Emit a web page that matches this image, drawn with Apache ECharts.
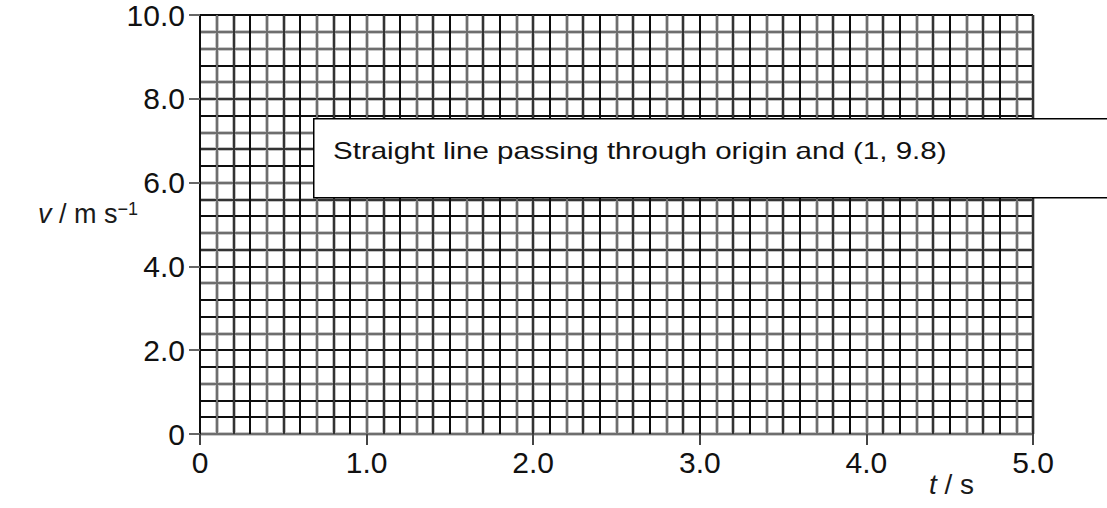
<!DOCTYPE html>
<html>
<head>
<meta charset="utf-8">
<script src="https://cdn.jsdelivr.net/npm/echarts@6/dist/echarts.min.js"></script>
<style>
  html, body { margin: 0; padding: 0; background: #ffffff; }
  #chart { width: 1107px; height: 508px; }
</style>
</head>
<body>
<div id="chart"></div>
<script>
// Axis ranges and labelled ticks
const tRange = [0, 5];
const vRange = [0, 10];
const tLabelStep = 1;
const vLabelStep = 2;
const tTickLabels = ['0', '1.0', '2.0', '3.0', '4.0', '5.0'];
const vTickLabels = ['0', '2.0', '4.0', '6.0', '8.0', '10.0'];

// Graph-paper ruling steps
const tRuleStep = 0.1;
const vRuleStep = 0.4;

// Annotation and axis titles
const noteText = 'Straight line passing through origin and (1, 9.8)';
const tTitle = '{i|t} / s';
const vTitle = '{i|v} / m s{sup|\u22121}';

// Ruling shades: B = black, D = dark grey, G = grey
const tRuleShades = 'BGD';                          // repeats across the sheet
const vRuleShades = 'GBBGBBGBBGBDGBDGBDGBDGBGGB';   // bottom to top

const FONT = '"Liberation Sans", Arial, sans-serif';
const CORE = { B: '#0d0d0d', D: '#333333', G: '#6e6e6e' };
const HALO = { B: 'rgba(255,255,255,0)', D: '#c2c2c2', G: '#c8c8c8' };

function shadeList(pattern, count, map) {
  const out = [];
  for (let i = 0; i < count; i++) out.push(map[pattern[i % pattern.length]]);
  return out;
}
const tRuleCount = Math.round((tRange[1] - tRange[0]) / tRuleStep) + 1;
const vRuleCount = Math.round((vRange[1] - vRange[0]) / vRuleStep) + 1;

function ruleAxis(range, step, colors, width, z) {
  return {
    type: 'value', min: range[0], max: range[1], interval: step, z: z,
    axisLine: { show: false }, axisTick: { show: false }, axisLabel: { show: false },
    splitLine: { show: true, lineStyle: { color: colors, width: width, type: 'solid' } }
  };
}

const chart = echarts.init(document.getElementById('chart'), null, { renderer: 'svg' });

chart.setOption({
  backgroundColor: '#ffffff',
  animation: false,
  grid: { left: 200, right: 74, top: 15, bottom: 74, containLabel: false },
  xAxis: [
    {
      type: 'value', min: tRange[0], max: tRange[1], interval: tLabelStep, z: 5,
      axisLine: { show: false },
      axisTick: { show: true, length: 11, lineStyle: { color: '#444', width: 2 } },
      axisLabel: {
        margin: 13, color: '#111', fontFamily: FONT, fontSize: 30,
        formatter: v => tTickLabels[Math.round((v - tRange[0]) / tLabelStep)]
      },
      splitLine: { show: false }
    },
    ruleAxis(tRange, tRuleStep, shadeList(tRuleShades, tRuleCount, HALO), 4, 1),
    ruleAxis(tRange, tRuleStep, shadeList(tRuleShades, tRuleCount, CORE), 2, 3)
  ],
  yAxis: [
    {
      type: 'value', min: vRange[0], max: vRange[1], interval: vLabelStep, z: 5,
      axisLine: { show: false },
      axisTick: { show: true, length: 11, lineStyle: { color: '#666', width: 2 } },
      axisLabel: {
        margin: 15, color: '#111', fontFamily: FONT, fontSize: 30,
        formatter: v => vTickLabels[Math.round((v - vRange[0]) / vLabelStep)]
      },
      splitLine: { show: false }
    },
    ruleAxis(vRange, vRuleStep, shadeList(vRuleShades, vRuleCount, HALO), 4, 1),
    ruleAxis(vRange, vRuleStep, shadeList(vRuleShades, vRuleCount, CORE), 2, 2)
  ],
  series: [{ type: 'line', xAxisIndex: 0, yAxisIndex: 0, data: [], silent: true }],
  graphic: [
    {
      type: 'rect', left: 313, top: 118, z: 100,
      shape: { x: 0, y: 0, width: 830, height: 79 },
      style: { fill: '#ffffff', stroke: '#000000', lineWidth: 1.5 }
    },
    {
      type: 'text', x: 333, y: 151, scaleX: 1.23, z: 101,
      style: {
        text: noteText, fill: '#111', font: '24px ' + FONT,
        verticalAlign: 'middle'
      }
    },
    {
      type: 'text', left: 38, top: 200, z: 100,
      style: {
        text: vTitle, fill: '#1a1a1a', font: '27px ' + FONT,
        rich: {
          i: { fontStyle: 'italic', fontSize: 27, fontFamily: FONT },
          sup: { fontSize: 18, fontFamily: FONT, verticalAlign: 'top' }
        }
      }
    },
    {
      type: 'text', left: 929, top: 470, z: 100,
      style: {
        text: tTitle, fill: '#1a1a1a', font: '28px ' + FONT,
        rich: { i: { fontStyle: 'italic', fontSize: 28, fontFamily: FONT } }
      }
    }
  ]
});
</script>
</body>
</html>
